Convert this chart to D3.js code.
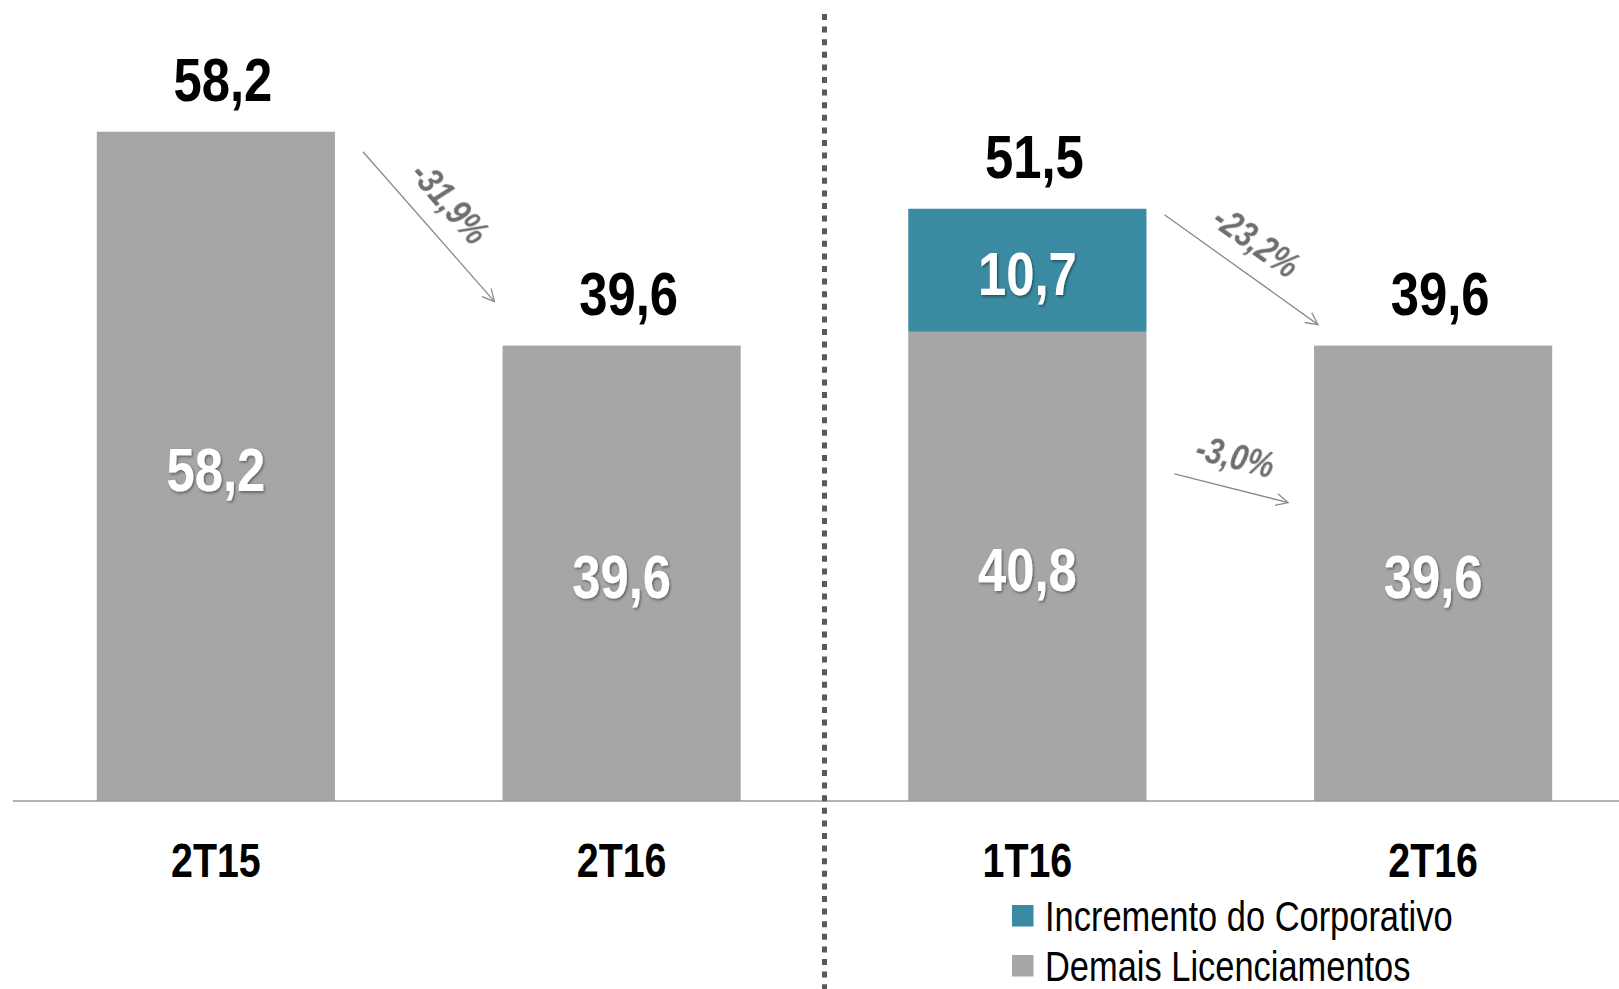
<!DOCTYPE html>
<html><head><meta charset="utf-8">
<script src="https://cdn.jsdelivr.net/npm/d3@7/dist/d3.min.js"></script>
<style>
html,body{margin:0;padding:0;background:#fff;}
svg{display:block;}
</style></head><body>
<svg id="chart" width="1619" height="989"></svg>
<script>
// ---- data ----
const categoryLabels = ["2T15", "2T16", "1T16", "2T16"];
const demaisValues = [58.2, 39.6, 40.8, 39.6];
const incrementoValues = [0, 0, 10.7, 0];
const totalValues = [58.2, 39.6, 51.5, 39.6];
const seriesNames = ["Incremento do Corporativo", "Demais Licenciamentos"];
const changeLabels = ["-31,9%", "-23,2%", "-3,0%"];

// ---- setup ----
const W = 1619, H = 989;
const svg = d3.select("#chart");
const FONT = "'Liberation Sans', Arial, sans-serif";
const NARROW = 0.82; // emulate Arial Narrow
const GRAY = "#a6a6a6", TEAL = "#3a8ba1";

const idx = d3.range(categoryLabels.length);
const x = d3.scaleBand().domain(idx).range([13, 1636]).paddingInner(0.413).paddingOuter(0.2065);
const y = d3.scaleLinear().domain([0, 60]).range([801, 801 - 60 * 11.5]);
const bw = x.bandwidth();

function place(sel, fx, fy, rot) {
  sel.attr("x", 0).attr("y", 0)
    .attr("transform", function (d, i) {
      const px = typeof fx === "function" ? fx(d, i) : fx;
      const py = typeof fy === "function" ? fy(d, i) : fy;
      const r = rot ? ` rotate(${rot})` : "";
      return `translate(${px},${py})${r} scale(${NARROW},1)`;
    });
  return sel;
}

const defs = svg.append("defs");
const sh = defs.append("filter").attr("id", "shadow").attr("x", "-20%").attr("y", "-20%").attr("width", "140%").attr("height", "140%");
sh.append("feDropShadow").attr("dx", 1.5).attr("dy", 1.5).attr("stdDeviation", 1.5).attr("flood-color", "#000").attr("flood-opacity", 0.45);
const glow = defs.append("filter").attr("id", "glow").attr("x", "-20%").attr("y", "-20%").attr("width", "140%").attr("height", "140%");
glow.append("feGaussianBlur").attr("stdDeviation", 0.6);

defs.append("marker").attr("id", "arrowhead").attr("viewBox", "0 0 14 14").attr("refX", 13).attr("refY", 7)
  .attr("markerWidth", 14).attr("markerHeight", 14).attr("markerUnits", "userSpaceOnUse").attr("orient", "auto")
  .append("path").attr("d", "M1,1 L13,7 L1,13").attr("fill", "none").attr("stroke", "#8a8a8a").attr("stroke-width", 1.3);

// ---- bars ----
const stackData = idx.map(i => ({ i, demais: demaisValues[i], incremento: incrementoValues[i] }));
const stack = d3.stack().keys(["demais", "incremento"])(stackData);
const colors = { demais: GRAY, incremento: TEAL };

stack.forEach(layer => {
  const segs = layer.filter(d => d[1] - d[0] > 0);
  svg.append("g").selectAll("rect").data(segs).join("rect")
    .attr("x", d => x(d.data.i)).attr("width", bw)
    .attr("y", d => y(d[1])).attr("height", d => y(d[0]) - y(d[1]))
    .attr("fill", colors[layer.key]);
  const t = svg.append("g").selectAll("text").data(segs).join("text")
    .attr("text-anchor", "middle")
    .attr("font-family", FONT).attr("font-weight", "bold").attr("font-size", 62)
    .attr("fill", "#fff").attr("filter", "url(#shadow)")
    .text(d => d3.format(".1f")(d[1] - d[0]).replace(".", ","));
  place(t, d => x(d.data.i) + bw / 2, d => (y(d[0]) + y(d[1])) / 2 + 25);
});

// ---- total labels ----
const tl = svg.append("g").selectAll("text").data(idx).join("text")
  .attr("text-anchor", "middle")
  .attr("font-family", FONT).attr("font-weight", "bold").attr("font-size", 62).attr("fill", "#000")
  .text(i => totalValues[i].toFixed(1).replace(".", ","));
place(tl, i => x(i) + bw / 2 + 7, i => y(totalValues[i]) - 31);

// ---- axis ----
const xAxis = d3.axisBottom(x).tickSize(0).tickPadding(0).tickFormat(i => categoryLabels[i]);
const ax = svg.append("g").attr("transform", `translate(0,${y(0)})`).call(xAxis);
ax.select(".domain").remove();
ax.selectAll(".tick text").attr("font-family", FONT).attr("font-weight", "bold").attr("font-size", 48)
  .attr("fill", "#000").attr("dy", null)
  .attr("x", 0).attr("y", 0).attr("transform", `translate(0,76) scale(${NARROW},1)`);
svg.append("line").attr("x1", 13).attr("x2", W).attr("y1", y(0)).attr("y2", y(0))
  .attr("stroke", "#9a9a9a").attr("stroke-width", 1.5);

// ---- dotted separator ----
const sepX = (x(1) + bw + x(2)) / 2;
svg.append("line").attr("x1", sepX).attr("x2", sepX).attr("y1", 14).attr("y2", H)
  .attr("stroke", "#595959").attr("stroke-width", 5).attr("stroke-dasharray", "6 6.6");

// ---- change arrows ----
const arrows = [
  { x0: x(0) + bw + 28, y0: y(totalValues[0]) + 20, x1: x(1) - 8, y1: y(totalValues[1]) - 44, label: changeLabels[0] },
  { x0: x(2) + bw + 18, y0: y(totalValues[2]) + 6, x1: x(3) + 4, y1: y(totalValues[3]) - 21, label: changeLabels[1] },
  { x0: x(2) + bw + 28, y0: y(demaisValues[2]) + 142, x1: x(3) - 26, y1: y(demaisValues[3]) + 157, label: changeLabels[2] }
];
arrows.forEach(a => {
  svg.append("line").attr("x1", a.x0).attr("y1", a.y0).attr("x2", a.x1).attr("y2", a.y1)
    .attr("stroke", "#8a8a8a").attr("stroke-width", 1.3).attr("marker-end", "url(#arrowhead)");
  const ang = Math.atan2(a.y1 - a.y0, a.x1 - a.x0);
  const mx = (a.x0 + a.x1) / 2, my = (a.y0 + a.y1) / 2;
  const off = 32;
  const cx = mx + Math.sin(ang) * off - Math.cos(ang) * 4;
  const cy = my - Math.cos(ang) * off - Math.sin(ang) * 4;
  const t = svg.append("text")
    .attr("text-anchor", "middle").attr("dy", "0.36em")
    .attr("font-family", FONT).attr("font-weight", "bold").attr("font-style", "italic").attr("font-size", 37)
    .attr("fill", "#6e6e6e").attr("filter", "url(#glow)")
    .text(a.label);
  place(t, cx, cy, ang * 180 / Math.PI);
});

// ---- legend ----
const legendColors = [TEAL, GRAY];
const lg = svg.append("g").selectAll("g").data(seriesNames).join("g")
  .attr("transform", (d, i) => `translate(1012,${905 + i * 50})`);
lg.append("rect").attr("width", 21.5).attr("height", 21.5).attr("fill", (d, i) => legendColors[i]);
const lt = lg.append("text")
  .attr("font-family", FONT).attr("font-size", 42).attr("fill", "#000").text(d => d);
place(lt, 33, 26);
</script>
</body></html>
